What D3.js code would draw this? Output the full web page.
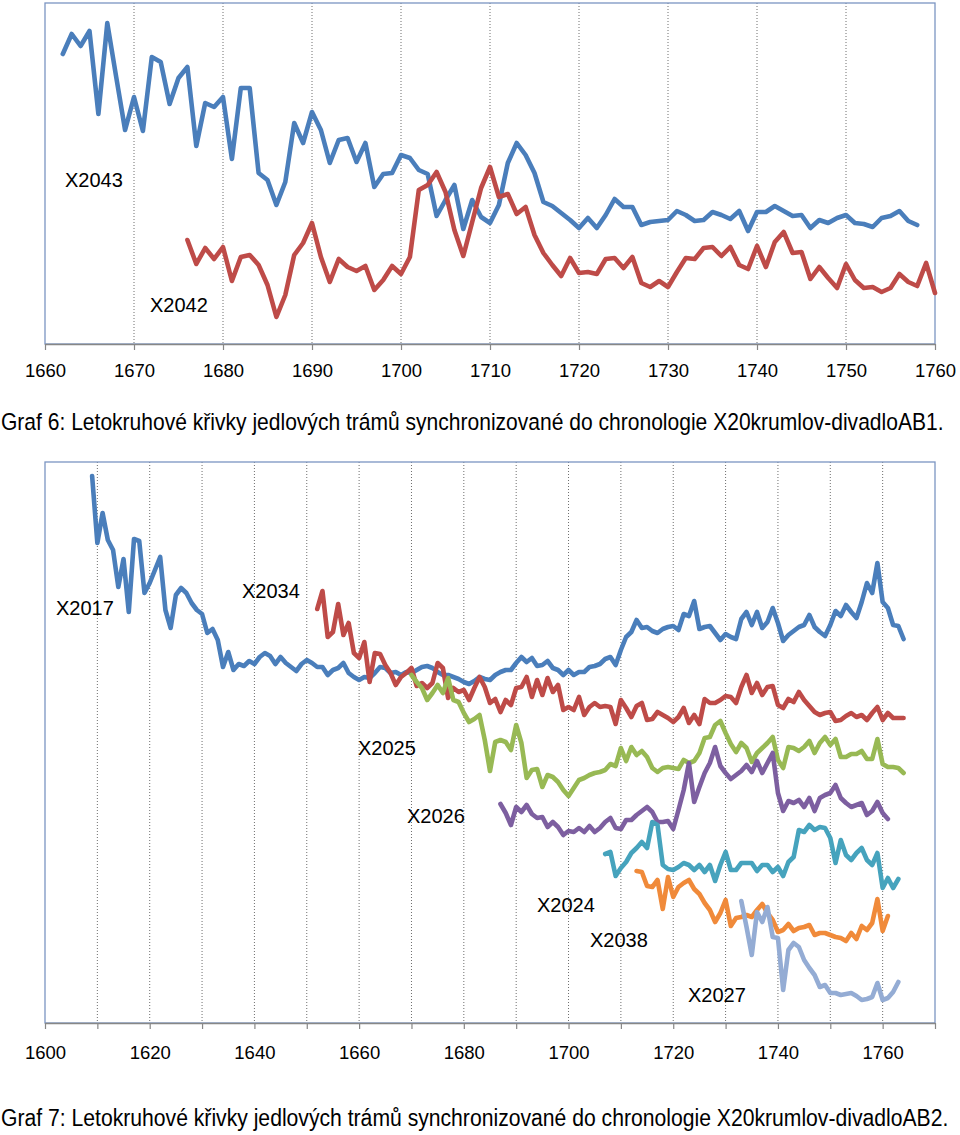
<!DOCTYPE html>
<html><head><meta charset="utf-8">
<script src="https://cdn.jsdelivr.net/npm/d3@7"></script>
<style>body{margin:0;background:#fff} svg text{font-family:"Liberation Sans",Arial,Helvetica,sans-serif;fill:#000}</style>
</head><body><svg id="c" width="960" height="1135"></svg>
<script>
// ---------- Graf 6 data ----------
const g6TickYears = [1660,1670,1680,1690,1700,1710,1720,1730,1740,1750,1760];
const g6TickLabels = ["1660","1670","1680","1690","1700","1710","1720","1730","1740","1750","1760"];
const x2043Start = 1662;
const x2043 = [290,310,298,313,230,321,267,214,247,213,
  287,282,240,266,277,198,241,237,247,185,
  256,256,171,164,139,162,221,201,232,214,
  181,204,206,182,201,157,170,171,189,186,
  174,170,128,144,159,115,144,127,121,139,
  181,201,189,171,142,138,131,124,116,126,
  116,129,145,137,137,119,122,123,124,133,
  129,123,124,132,129,125,133,113,132,132,
  138,133,128,129,116,124,121,126,129,121,
  120,117,126,128,133,123,119];
const x2042Start = 1676;
const x2042 = [104,80,96,85,97,63,87,89,79,59,
  27,49,89,101,121,87,62,85,77,73,
  78,54,64,78,70,87,154,159,172,152,
  114,88,122,156,177,147,150,130,137,109,
  91,79,68,86,71,72,70,85,86,76,
  87,61,57,63,57,72,86,85,96,97,
  88,97,79,75,98,77,102,112,91,92,
  65,77,66,56,80,64,56,57,52,56,
  70,62,58,81,51];

// ---------- Graf 7 data ----------
const g7TickYears = [1600,1610,1620,1630,1640,1650,1660,1670,1680,1690,1700,1710,1720,1730,1740,1750,1760,1770];
const g7LabelYears = [1600,1620,1640,1660,1680,1700,1720,1740,1760];
const x2017Start = 1609;
const x2017 = [547,480,510,483,473,436,464,411,484,482,
  430,440,453,466,413,395,428,435,430,420,
  413,409,390,394,383,356,371,353,359,357,
  362,359,366,370,367,359,366,360,356,352,
  359,363,360,356,356,348,353,355,360,350,
  346,343,346,345,350,356,355,350,351,348,
  351,350,353,356,357,355,351,348,348,346,
  344,341,339,342,346,344,343,348,351,353,
  353,360,366,361,365,357,358,362,355,353,
  348,353,348,351,351,356,357,359,364,366,
  358,373,386,391,403,395,396,392,390,394,
  396,397,393,409,407,422,394,396,397,390,
  383,389,386,384,404,411,398,411,395,401,
  415,400,382,388,392,396,398,408,396,391,
  387,398,412,407,418,411,405,421,440,430,
  460,421,415,398,397,384];
const x2034Start = 1652;
const x2034 = [414,432,386,391,419,388,400,370,365,381,
  341,370,369,358,350,338,346,350,355,337,
  340,335,340,360,355,325,335,331,333,323,
  335,346,336,320,324,311,323,318,335,336,
  346,326,343,328,345,331,338,313,316,313,
  326,308,316,320,316,317,316,299,323,315,
  306,317,320,303,304,311,308,305,301,306,
  315,300,308,299,324,320,320,323,327,326,
  320,336,348,330,340,328,336,337,318,315,
  324,321,331,323,317,311,308,310,311,302,
  303,307,310,306,308,303,310,316,303,310,
  305,305,305];
const x2025Start = 1670;
const x2025 = [348,341,335,323,330,338,330,345,323,321,
  310,301,304,308,283,252,281,283,281,273,
  298,280,245,253,254,236,248,246,241,233,
  227,235,243,245,248,250,251,253,259,257,
  275,262,276,268,272,266,255,251,255,256,
  255,254,263,260,262,270,285,286,298,302,
  290,279,271,280,275,261,270,275,280,286,
  263,255,276,275,272,276,282,270,280,286,
  278,284,266,266,269,269,272,264,264,284,
  259,256,256,255,250];
const x2026Start = 1687;
const x2026 = [219,210,198,216,211,218,209,205,206,196,
  201,196,188,192,191,195,191,197,191,195,
  201,205,195,194,203,203,208,212,216,211,
  201,201,202,194,213,233,260,221,236,250,
  260,276,257,250,244,248,252,258,251,262,
  250,260,270,230,212,222,220,223,216,225,
  212,225,228,230,238,225,220,216,218,220,
  208,212,221,210,204];
const x2024Start = 1707;
const x2024 = [169,171,147,155,161,170,175,181,175,201,
  198,158,154,153,156,160,158,153,158,151,
  158,142,158,171,153,153,160,160,160,152,
  158,158,151,156,147,161,166,193,191,198,
  193,196,195,185,160,183,168,163,170,175,
  163,158,170,135,145,135,144];
const x2038Start = 1713;
const x2038 = [152,151,137,136,143,114,146,126,136,140,
  143,134,129,120,113,101,110,123,97,105,
  106,108,106,113,119,110,103,91,93,99,
  92,95,96,98,88,90,90,88,86,85,
  82,90,84,97,93,100,124,92,107];
const x2027Start = 1733;
const x2027 = [122,96,68,111,101,116,86,85,33,73,
  80,76,63,55,48,36,38,30,30,28,
  29,30,27,23,24,26,40,23,25,31,
  41];

const caption6 = "Graf 6: Letokruhové křivky jedlových trámů synchronizované do chronologie X20krumlov-divadloAB1.";
const caption7 = "Graf 7: Letokruhové křivky jedlových trámů synchronizované do chronologie X20krumlov-divadloAB2.";

// ---------- drawing ----------
const svg = d3.select("#c");
const BORDER = "#7b95c2", AXIS = "#878787", GRID = "#6e6e6e";

function drawChart(cfg) {
  const x = d3.scaleLinear().domain(cfg.xDomain).range([45, 935]);
  const y = d3.scaleLinear().domain(cfg.yDomain).range([cfg.bottom, cfg.top]);
  const g = svg.append("g");

  g.selectAll("line.grid").data(cfg.gridYears).enter().append("line")
    .attr("class","grid")
    .attr("x1", d => x(d)).attr("x2", d => x(d))
    .attr("y1", cfg.top).attr("y2", cfg.bottom)
    .attr("stroke", GRID).attr("stroke-width", 1).attr("stroke-dasharray", "1,2");

  g.append("rect").attr("x", 45).attr("y", cfg.top)
    .attr("width", 890).attr("height", cfg.bottom - cfg.top)
    .attr("fill", "none").attr("stroke", BORDER).attr("stroke-width", 1.3);

  const axis = d3.axisBottom(x).tickValues(cfg.tickYears).tickSize(6).tickSizeOuter(0)
    .tickFormat(d => cfg.labelMap.has(d) ? cfg.labelMap.get(d) : "");
  const ag = g.append("g").attr("transform", `translate(0,${cfg.bottom})`).call(axis);
  ag.select(".domain").attr("stroke", AXIS).attr("stroke-width", 1.5);
  ag.selectAll(".tick line").attr("stroke", AXIS).attr("stroke-width", 1.2);
  ag.selectAll(".tick text").attr("y", cfg.labelOffset).attr("dy", 0)
    .style("font-size", "18.5px").style("font-family", '"Liberation Sans",Arial,sans-serif').attr("fill", "#000");

  const line = d3.line().curve(d3.curveLinear);
  cfg.series.forEach(s => {
    const pts = s.values.map((v, i) => [x(s.start + i), y(v)]);
    g.append("path").attr("d", line(pts)).attr("fill", "none")
      .attr("stroke", s.color).attr("stroke-width", 4.6)
      .attr("stroke-linejoin", "round").attr("stroke-linecap", "round");
  });

  cfg.labels.forEach(l => {
    g.append("text").attr("x", l.x).attr("y", l.y).text(l.t).style("font-size", "20px");
  });

  // caption: condensed horizontally to the reference width
  const cap = svg.append("text").attr("x", 0).attr("y", 0)
    .style("font-size", "24.5px").text(cfg.caption);
  const natural = cap.node().getComputedTextLength();
  const k = cfg.captionLen / natural;
  cap.attr("transform", `translate(1,${cfg.captionY}) scale(${k},1)`);
}

drawChart({
  xDomain: [1660, 1760], yDomain: [0, 341], top: 3, bottom: 344,
  gridYears: g6TickYears.slice(1, -1), tickYears: g6TickYears,
  labelMap: new Map(g6TickYears.map((d, i) => [d, g6TickLabels[i]])),
  labelOffset: 33,
  series: [
    {start: x2043Start, values: x2043, color: "#4a7ebb"},
    {start: x2042Start, values: x2042, color: "#be4b48"}
  ],
  labels: [{t: "X2043", x: 65, y: 187}, {t: "X2042", x: 150, y: 312}],
  caption: caption6, captionY: 430, captionLen: 943
});

drawChart({
  xDomain: [1600, 1770], yDomain: [0, 561], top: 462, bottom: 1023,
  gridYears: g7TickYears.slice(1, -1), tickYears: g7TickYears,
  labelMap: new Map(g7LabelYears.map(d => [d, String(d)])),
  labelOffset: 36,
  series: [
    {start: x2017Start, values: x2017, color: "#4a7ebb"},
    {start: x2034Start, values: x2034, color: "#be4b48"},
    {start: x2025Start, values: x2025, color: "#98b954"},
    {start: x2026Start, values: x2026, color: "#7d5fa0"},
    {start: x2024Start, values: x2024, color: "#46a3bd"},
    {start: x2038Start, values: x2038, color: "#f08a3a"},
    {start: x2027Start, values: x2027, color: "#94acd4"}
  ],
  labels: [
    {t: "X2017", x: 56, y: 615}, {t: "X2034", x: 242, y: 598},
    {t: "X2025", x: 358, y: 755}, {t: "X2026", x: 407, y: 823},
    {t: "X2024", x: 537, y: 912}, {t: "X2038", x: 590, y: 947},
    {t: "X2027", x: 688, y: 1002}
  ],
  caption: caption7, captionY: 1126, captionLen: 948
});
</script></body></html>
